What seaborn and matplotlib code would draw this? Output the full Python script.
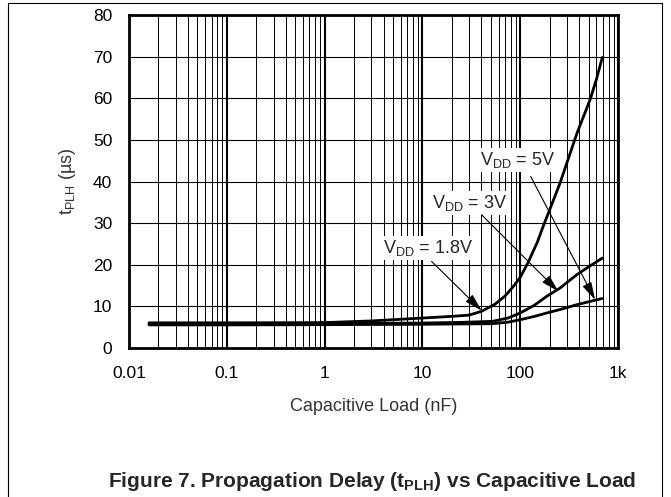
import matplotlib
matplotlib.use("Agg")
import matplotlib.pyplot as plt
from matplotlib.lines import Line2D
from matplotlib.ticker import FixedLocator, LogLocator, NullFormatter
import seaborn as sns
import pandas as pd

# data (load in nF, delay in us)
load_18 = [0.016, 0.1, 1, 3, 10, 20, 30, 40, 55, 70, 85, 100, 120, 150, 170,
           210, 255, 300, 380, 450, 520, 600, 690]
tplh_18 = [6.05, 6.05, 6.1, 6.5, 7.2, 7.6, 7.9, 8.8, 10.5, 12.5, 14.8, 17.0,
           20.5, 25.5, 29.0, 34.5, 39.6, 44.5, 51.6, 56.0, 59.8, 64.5, 69.8]

load_3 = [0.016, 0.1, 1, 10, 24, 52, 75, 100, 140, 186, 255, 378, 500, 690]
tplh_3 = [5.8, 5.8, 5.85, 6.0, 6.15, 6.4, 7.2, 8.4, 10.3, 12.4, 14.4, 17.6,
          19.5, 21.6]

load_5 = [0.016, 0.1, 1, 10, 52, 75, 100, 140, 186, 270, 378, 500, 690]
tplh_5 = [5.55, 5.55, 5.6, 5.7, 5.84, 6.2, 6.8, 7.6, 8.4, 9.4, 10.4, 11.1, 11.9]

x_ticks = [0.01, 0.1, 1, 10, 100, 1000]
x_labels = ["0.01", "0.1", "1", "10", "100", "1k"]
y_ticks = [0, 10, 20, 30, 40, 50, 60, 70, 80]

df = pd.concat([
    pd.DataFrame({"load": load_18, "tplh": tplh_18, "vdd": "1.8V"}),
    pd.DataFrame({"load": load_3, "tplh": tplh_3, "vdd": "3V"}),
    pd.DataFrame({"load": load_5, "tplh": tplh_5, "vdd": "5V"}),
])

sns.set_style("white")
plt.rcParams["font.family"] = ["Liberation Sans", "DejaVu Sans"]
plt.rcParams["mathtext.fontset"] = "custom"
plt.rcParams["mathtext.rm"] = "Liberation Sans"
plt.rcParams["mathtext.bf"] = "Liberation Sans:bold"

fig = plt.figure(figsize=(6.71, 4.97), dpi=100)
ax = fig.add_axes([0.1923, 0.2998, 0.7288, 0.670])

sns.lineplot(data=df, x="load", y="tplh", hue="vdd", palette=["black"] * 3,
             estimator=None, sort=True, legend=False, lw=2.0, ax=ax)

ax.set_xscale("log")
ax.set_xlim(0.01, 1000)
ax.set_ylim(0, 80)
ax.xaxis.set_major_locator(FixedLocator(x_ticks))
ax.set_xticklabels(x_labels)
ax.xaxis.set_minor_locator(LogLocator(base=10, subs=range(2, 10), numticks=20))
ax.xaxis.set_minor_formatter(NullFormatter())
ax.set_yticks(y_ticks)

ax.set_axisbelow(True)
ax.grid(which="major", axis="x", color="black", lw=1.5)
ax.grid(which="minor", axis="x", color="black", lw=0.7)
ax.grid(which="major", axis="y", color="black", lw=0.8)
ax.tick_params(axis="both", which="both", length=0, labelsize=12.5, colors="black")
ax.tick_params(axis="x", pad=13)
ax.tick_params(axis="y", pad=12)
for s in ax.spines.values():
    s.set_visible(True)
    s.set_color("black")
    s.set_linewidth(2.0)

ax.set_xlabel("Capacitive Load (nF)", fontsize=13, color="#333333", labelpad=12)
ax.set_ylabel(r"t$_\mathregular{PLH}$ (µs)", fontsize=13, color="#333333", labelpad=11)

# annotations
box = dict(facecolor="white", edgecolor="none", pad=1.5)
arrow = dict(arrowstyle="-|>,head_length=0.9,head_width=0.25", color="black",
             lw=0.8, mutation_scale=12, shrinkA=0, shrinkB=0)
ax.text(95, 45.2, r"V$_\mathregular{DD}$ = 5V", fontsize=13, ha="center",
        va="center", bbox=box)
ax.annotate("", xy=(582, 11.6), xytext=(128, 41.2), arrowprops=arrow)
ax.text(30.7, 34.9, r"V$_\mathregular{DD}$ = 3V", fontsize=13, ha="center",
        va="center", bbox=box)
ax.annotate("", xy=(245, 13.6), xytext=(40.3, 32.0), arrowprops=arrow)
ax.text(11.5, 24.1, r"V$_\mathregular{DD}$ = 1.8V", fontsize=13, ha="center",
        va="center", bbox=box)
ax.annotate("", xy=(40.3, 9.0), xytext=(12.4, 20.8), arrowprops=arrow)

fig.text(0.5544, 1 - 487 / 497, r"Figure 7. Propagation Delay (t$_\mathbf{PLH}$) vs Capacitive Load",
         fontsize=15, fontweight="bold", ha="center", va="baseline")

# outer frame (left, top, right)
fig.add_artist(Line2D([0.0119, 0.0119, 0.9866, 0.9866], [0.0, 0.994, 0.994, 0.0],
                      transform=fig.transFigure, color="black", lw=0.8))

fig.savefig("out.png", dpi=100)
